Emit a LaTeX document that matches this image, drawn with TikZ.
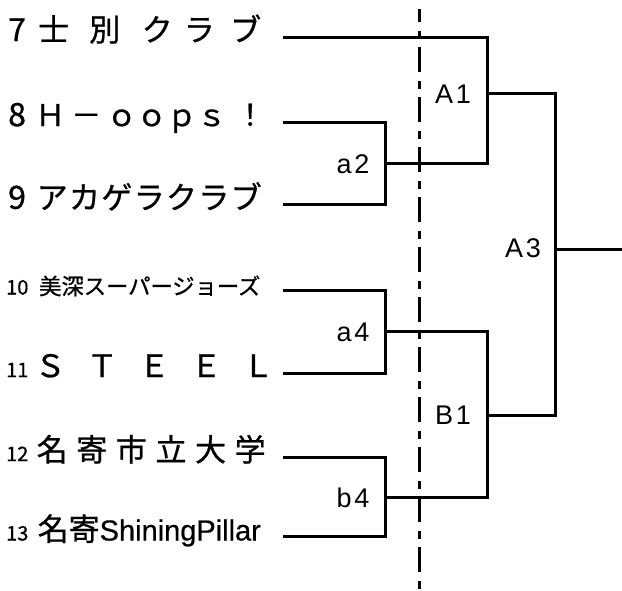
\documentclass[tikz,border=0pt]{standalone}
\usepackage{fontspec}
\setmainfont{Noto Sans CJK JP}[FakeBold=0.8]
\newfontfamily\latinfont{Liberation Sans}[FakeBold=0.5]
\newfontfamily\gamefont{Liberation Sans}[LetterSpace=10]

\tikzset{
  bracket/.style={line width=3pt,line join=miter},
  split/.style={line width=3pt,dash pattern=on 25pt off 8.5pt on 8pt off 8.5pt,dash phase=12pt},
  seed/.style={anchor=west,inner sep=0pt,text height=0.86em,text depth=0.1em},
  bigseed/.style={seed,font=\fontsize{32}{32}\selectfont},
  smallseed/.style={seed,font=\fontsize{20}{20}\selectfont},
  team/.style={anchor=west,inner sep=0pt,text height=0.86em,text depth=0.1em,font=\fontsize{31}{31}\selectfont},
  gamelabel/.style={inner sep=0pt,font=\gamefont\fontsize{27}{27}\selectfont}
}

\begin{document}
\begin{tikzpicture}[x=1pt,y=-1pt]
\useasboundingbox (0,0) rectangle (622,591);
% seeds
\node[bigseed] (n7) at (8,37.3) {7};
\node[bigseed] (n8) at (8,122.3) {8};
\node[bigseed] (n9) at (8,205) {9};
\node[smallseed] (n10) at (6,290.7) {10};
\node[smallseed] (n11) at (6,373.3) {11};
\node[smallseed] (n12) at (6,457.3) {12};
\node[smallseed] (n13) at (6,536.7) {13};
% teams
\node[team] (t7) at (38,37.3) {\makebox[223pt][s]{士\hspace{\stretch{23.5}}別\hspace{\stretch{25}}ク\hspace{\stretch{13}}ラ\hspace{\stretch{18}}ブ}};
\node[team,font=\fontsize{30}{30}\selectfont] (t8) at (35,122.3) {\makebox[230pt][s]{Ｈ\hspace{\stretch{10}}－\hspace{\stretch{9}}ｏｏｐｓ\hspace{\stretch{14}}！}};
\node[team] (t9) at (36.5,205) {\makebox[225pt][s]{ア\hfill カ\hfill ゲ\hfill ラ\hfill ク\hfill ラ\hfill ブ}};
\node[team,font=\fontsize{22.3}{22.3}\selectfont] (t10) at (39,290.7) {美深スーパージョーズ};
\node[team] (t11) at (34.5,373.3) {\makebox[239pt][s]{Ｓ\hfill Ｔ\hfill Ｅ\hfill Ｅ\hfill Ｌ}};
\node[team] (t12) at (36.5,457.3) {\makebox[229pt][s]{名\hfill 寄\hfill 市\hfill 立\hfill 大\hfill 学}};
\node[team] (t13) at (37.5,536.7) {名寄{\latinfont\fontsize{29}{29}\selectfont ShiningPillar}};
% line starts
\foreach \n/\y in {7/37.3,8/122.3,9/205,10/290.7,11/373.3,12/457.3,13/536.7}{
  \coordinate (s\n) at (283,\y);
};
% games
\coordinate (a2) at (385.3,164);
\coordinate (a4) at (385.3,331.7);
\coordinate (b4) at (385.3,497.7);
\coordinate (A1) at (487.3,93.3);
\coordinate (B1) at (487.3,415.7);
\coordinate (A3) at (555.3,249.3);
\coordinate (win) at (622,249.3);
\draw[bracket] (s8) -| (a2) |- (s9);
\draw[bracket] (s10) -| (a4) |- (s11);
\draw[bracket] (s12) -| (b4) |- (s13);
\draw[bracket] (s7) -| (A1) |- (a2);
\draw[bracket] (a4) -| (B1) |- (b4);
\draw[bracket] (A1) -| (A3) |- (B1);
\draw[bracket] (A3) -- (win);
% dividing line
\coordinate (cut-top) at (419.3,9.3);
\coordinate (cut-bot) at (419.3,590);
\draw[split] (cut-top) -- (cut-bot);
% game labels
\node[gamelabel] (l-a2) at (353,164) {a2};
\node[gamelabel] (l-a4) at (353,332) {a4};
\node[gamelabel] (l-b4) at (353,497.7) {b4};
\node[gamelabel] (l-A1) at (453,94) {A1};
\node[gamelabel] (l-B1) at (453,415) {B1};
\node[gamelabel] (l-A3) at (523,248) {A3};
\end{tikzpicture}
\end{document}
